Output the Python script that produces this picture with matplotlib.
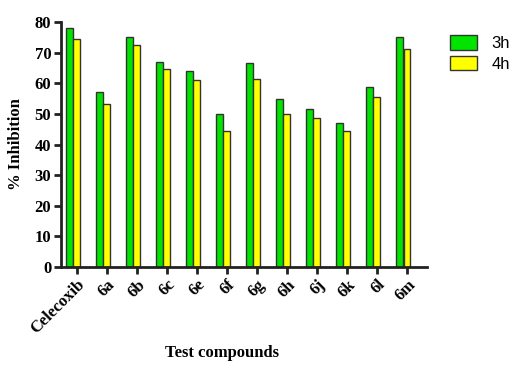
import numpy as np
import matplotlib.pyplot as plt
from matplotlib.patches import Patch

compounds = ['Celecoxib', '6a', '6b', '6c', '6e', '6f', '6g', '6h', '6j', '6k', '6l', '6m']
inh_3h = [78.0, 57.3, 75.2, 67.1, 64.1, 50.1, 66.7, 55.0, 51.7, 47.0, 58.7, 75.1]
inh_4h = [74.5, 53.3, 72.4, 64.7, 61.0, 44.5, 61.4, 50.0, 48.8, 44.3, 55.6, 71.3]
yticks = [0, 10, 20, 30, 40, 50, 60, 70, 80]

green = '#00e400'
yellow = '#ffff00'
edge = '#333333'

fig = plt.figure(figsize=(5.16, 3.67), dpi=100)
ax = fig.add_axes([0.118, 0.2725, 0.71, 0.6675])

x = np.arange(len(compounds))
w = 0.23
ax.bar(x - 0.245, inh_3h, w, color=green, edgecolor=edge, linewidth=1.0)
ax.bar(x - 0.005, inh_4h, w, color=yellow, edgecolor=edge, linewidth=1.0)

ax.set_xlim(-0.53, 11.67)
ax.set_ylim(0, 80)
ax.set_yticks(yticks)
ax.set_xticks(x)

serif = dict(family='Liberation Serif', weight='bold')
ax.set_yticklabels([str(v) for v in yticks], fontsize=12, **serif)
ax.set_xticklabels(compounds, rotation=45, ha='right', rotation_mode='anchor', fontsize=12, **serif)

for s in ['top', 'right']:
    ax.spines[s].set_visible(False)
for s in ['left', 'bottom']:
    ax.spines[s].set_linewidth(2)
    ax.spines[s].set_color('#222222')
ax.tick_params(axis='both', direction='out', length=5, width=2, color='#222222', pad=2)

ax.set_ylabel('% Inhibition', fontsize=12, **serif)
ax.yaxis.set_label_coords(-0.10, 0.5)
ax.set_xlabel('Test compounds', fontsize=12, **serif)
ax.xaxis.set_label_coords(0.44, -0.32)

handles = [Patch(facecolor=green, edgecolor=edge, label='3h'),
           Patch(facecolor=yellow, edgecolor=edge, label='4h')]
fig.legend(handles=handles, loc='upper left', bbox_to_anchor=(0.872, 0.904),
           frameon=False, prop={'family': 'Liberation Sans', 'size': 12},
           borderpad=0, borderaxespad=0,
           handlelength=1.6, handleheight=1.0, handletextpad=0.9, labelspacing=0.25)

fig.savefig('out.png', dpi=100)
